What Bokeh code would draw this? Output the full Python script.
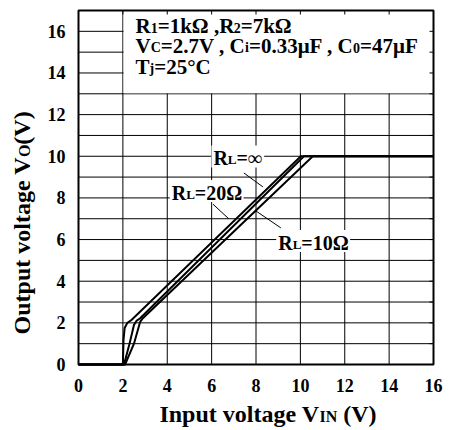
import math
from bokeh.plotting import figure
from bokeh.models import Range1d, FixedTicker, Label, LinearAxis
from bokeh.embed import file_html
from bokeh.resources import INLINE

# ---- data ----
x_ticks = [0, 2, 4, 6, 8, 10, 12, 14, 16]
y_ticks = [0, 2, 4, 6, 8, 10, 12, 14, 16]
x_grid = [2, 4, 6, 8, 10, 12, 14]
y_grid = list(range(1, 17))

vin_inf = [0, 2.0, 2.03, 2.08, 2.2, 2.4, 10.02, 16]
vout_inf = [0, 0, 1.2, 1.75, 2.0, 2.15, 10.0, 10.0]
vin_20 = [0, 2.05, 2.3, 2.5, 2.62, 2.78, 10.16, 16]
vout_20 = [0, 0, 1.0, 1.9, 2.1, 2.22, 10.0, 10.0]
vin_10 = [0, 2.1, 2.5, 2.78, 2.9, 10.56, 16]
vout_10 = [0, 0, 1.0, 2.05, 2.22, 10.0, 10.0]

FONT = "Liberation Serif"
W, H = 452, 430
XR = (0, 16)
YR = (0, 17)
# plot box position on the canvas (pixels)
FL, FR, FT, FB = 78, 433, 10, 364
PX = (FR - FL) / (XR[1] - XR[0])
PY = (FB - FT) / (YR[1] - YR[0])
BASE_K = 0.24  # empirical baseline correction (fraction of font size)

# Times-Bold advance widths (per 1000 em)
ADV = {' ': 250, '(': 333, ')': 333, ',': 250, '.': 250, '=': 570,
       'C': 722, 'F': 611, 'I': 389, 'L': 667, 'N': 722, 'O': 778, 'R': 722,
       'T': 667, 'V': 722, 'a': 500, 'e': 444, 'g': 500, 'i': 278, 'j': 333,
       'k': 556, 'l': 278, 'n': 556, 'o': 500, 'p': 556, 't': 333, 'u': 556,
       'v': 500, '°': 400, 'μ': 556, 'Ω': 770, '∞': 713}


def tw(s, size):
    return sum(ADV.get(c, 500) for c in s) * size / 1000.0


p = figure(width=W, height=H,
           x_range=Range1d(XR[0] - FL / PX, XR[1] + (W - FR) / PX),
           y_range=Range1d(YR[0] - (H - FB) / PY, YR[1] + FT / PY),
           output_backend="svg", toolbar_location=None,
           x_axis_location=None, y_axis_location=None, min_border=0)
p.background_fill_color = "white"
p.border_fill_color = "white"
p.outline_line_color = None
p.xgrid.visible = False
p.ygrid.visible = False

# axes fixed on the plot box edges
xa = LinearAxis(fixed_location=YR[0], ticker=FixedTicker(ticks=x_ticks), bounds=XR)
ya = LinearAxis(fixed_location=XR[0], ticker=FixedTicker(ticks=y_ticks), bounds=YR)
for ax, st in ((xa, 14), (ya, 13)):
    ax.axis_line_color = None
    ax.major_tick_in = 0
    ax.major_tick_out = 0
    ax.minor_tick_line_color = None
    ax.major_label_text_font = FONT
    ax.major_label_text_font_style = "bold"
    ax.major_label_text_font_size = "18px"
    ax.major_label_text_color = "black"
    ax.major_label_standoff = st
p.add_layout(xa, "below")
p.add_layout(ya, "left")

# grid
p.segment(x0=x_grid, y0=[YR[0]] * len(x_grid), x1=x_grid, y1=[YR[1]] * len(x_grid),
          line_color="black", line_width=1)
p.segment(x0=[XR[0]] * len(y_grid), y0=y_grid, x1=[XR[1]] * len(y_grid), y1=y_grid,
          line_color="black", line_width=1)

# condition box (hides the grid behind the text)
p.quad(left=[2.03], right=[XR[1]], bottom=[13.03], top=[YR[1]],
       fill_color="white", line_color=None)

# small inward ticks on top and right edges
tx = x_ticks[1:-1]
p.segment(x0=tx, y0=[YR[1]] * len(tx), x1=tx, y1=[YR[1] - 4 / PY] * len(tx),
          line_color="black", line_width=1)
ty = list(range(1, 17))
p.segment(x0=[XR[1]] * len(ty), y0=ty, x1=[XR[1] - 4 / PX] * len(ty), y1=ty,
          line_color="black", line_width=1)


def pieces(x, y, parts, angle=0.0):
    off = 0.0
    for txt, size in parts:
        stripped = txt.lstrip()
        off += tw(txt[:len(txt) - len(stripped)], size)
        corr = BASE_K * size
        common = dict(text=stripped, text_font=FONT, text_font_style="bold",
                      text_font_size=f"{size}px", text_baseline="alphabetic",
                      text_align="left", text_color="black")
        if angle == 0.0:
            p.add_layout(Label(x=x, y=y + corr / PY, x_offset=off, **common))
        else:
            p.add_layout(Label(x=x - corr / PX, y=y + off / PY, angle=angle, **common))
        off += tw(stripped, size)
    return off


# condition text
BIG, SUB = 21, 14
pieces(2.57, 16.0, [("R", BIG), ("1", SUB), ("=1kΩ ,R", BIG), ("2", SUB), ("=7kΩ", BIG)])
pieces(2.57, 15.05, [("V", BIG), ("C", SUB), ("=2.7V , C", BIG), ("i", SUB),
                     ("=0.33μF , C", BIG), ("0", SUB), ("=47μF", BIG)])
pieces(2.57, 14.05, [("T", BIG), ("j", SUB), ("=25°C", BIG)])

# curve labels with white background
LB, LS = 20, 13
curve_labels = [
    (6.08, 9.68, [("R", LB), ("L", LS), ("=∞", LB)]),
    (4.2, 8.02, [("R", LB), ("L", LS), ("=20Ω", LB)]),
    (9.0, 5.62, [("R", LB), ("L", LS), ("=10Ω", LB)]),
]
for x, y, parts in curve_labels:
    total = sum(tw(t, s) for t, s in parts)
    p.rect(x=[x + total / 2 / PX], y=[y + 6.5 / PY], width=[total + 4], height=[22],
           width_units="screen", height_units="screen",
           fill_color="white", line_color=None)

# leader lines
p.segment(x0=[7.45, 6.06, 8.0], y0=[9.2, 7.7, 7.37],
          x1=[8.31, 6.78, 9.12], y1=[8.53, 6.99, 6.56],
          line_color="black", line_width=1)

# curves
for xs, ys in ((vin_inf, vout_inf), (vin_20, vout_20), (vin_10, vout_10)):
    p.line(xs, ys, line_color="black", line_width=2, line_join="miter")

# plot box outline
p.quad(left=[XR[0]], right=[XR[1]], bottom=[YR[0]], top=[YR[1]],
       fill_color=None, line_color="black", line_width=2)

for x, y, parts in curve_labels:
    pieces(x, y, parts)

# axis titles
AXB, AXS = 24, 16
xl_parts = [("Input voltage V", AXB), ("IN", AXS), (" (V)", AXB)]
xl_len = sum(tw(t, s) for t, s in xl_parts)
pieces(8.54 - xl_len / 2 / PX, -2.66, xl_parts)

yl_parts = [("Output voltage V", AXB), ("O", AXS), ("(V)", AXB)]
yl_len = sum(tw(t, s) for t, s in yl_parts)
pieces(-2.27, 6.8 - yl_len / 2 / PY, yl_parts, angle=math.pi / 2)

open("out.html", "w").write(file_html(p, INLINE))
